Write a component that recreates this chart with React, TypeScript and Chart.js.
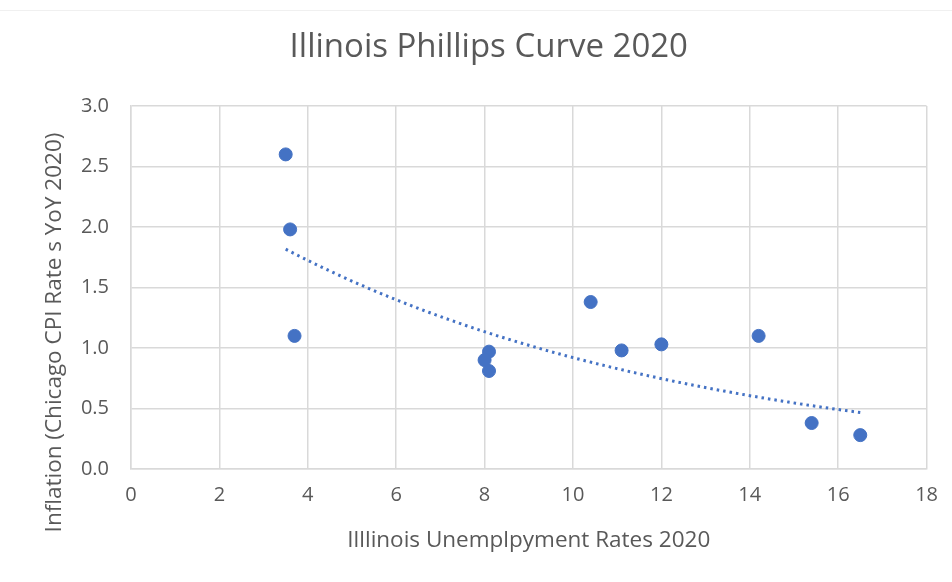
import React, { useEffect, useRef } from "react";
import { Chart, registerables } from "chart.js";

Chart.register(...registerables);

const chartTitle = "Illinois Phillips Curve 2020";
const xAxisTitle = "Illlinois Unemplpyment Rates 2020";
const yAxisTitle = "Inflation (Chicago CPI Rate s YoY 2020)";

const unemploymentRates = [3.5, 3.6, 3.7, 8.1, 8.0, 8.1, 10.4, 11.1, 12.0, 14.2, 15.4, 16.5];
const inflationRates = [2.6, 1.98, 1.1, 0.97, 0.9, 0.81, 1.38, 0.98, 1.03, 1.1, 0.38, 0.28];

const xTicks = [0, 2, 4, 6, 8, 10, 12, 14, 16, 18];
const yTicks = [0, 0.5, 1, 1.5, 2, 2.5, 3];

const FONT = "'Open Sans', 'DejaVu Sans', sans-serif";
const TEXT = "#595959";
const BLUE = "#4472C4";
const GRID = "#d9d9d9";

// Excel-style exponential trendline: least squares fit of ln(y) on x
function expFit(xs: number[], ys: number[]) {
  const n = xs.length;
  const ly = ys.map((v) => Math.log(v));
  const mx = xs.reduce((a, b) => a + b, 0) / n;
  const my = ly.reduce((a, b) => a + b, 0) / n;
  let sxy = 0;
  let sxx = 0;
  for (let i = 0; i < n; i++) {
    sxy += (xs[i] - mx) * (ly[i] - my);
    sxx += (xs[i] - mx) * (xs[i] - mx);
  }
  const k = sxy / sxx;
  const a = Math.exp(my - k * mx);
  return (x: number) => a * Math.exp(k * x);
}

function trendPoints() {
  const f = expFit(unemploymentRates, inflationRates);
  const lo = Math.min(...unemploymentRates);
  const hi = Math.max(...unemploymentRates);
  const pts: { x: number; y: number }[] = [];
  const steps = 80;
  for (let i = 0; i <= steps; i++) {
    const x = lo + ((hi - lo) * i) / steps;
    pts.push({ x, y: f(x) });
  }
  return pts;
}

const titlesPlugin = {
  id: "titlesCustom",
  afterDraw(chart: any) {
    const { ctx, chartArea } = chart;
    // chart title
    ctx.save();
    ctx.font = `33px ${FONT}`;
    ctx.fillStyle = TEXT;
    ctx.textAlign = "center";
    ctx.textBaseline = "middle";
    ctx.fillText(chartTitle, (chartArea.left + chartArea.right) / 2 - 40, chartArea.top - 58);
    ctx.restore();
    // y axis title
    ctx.save();
    ctx.translate(chartArea.left - 76, (chartArea.top + chartArea.bottom) / 2 + 45);
    ctx.rotate(-Math.PI / 2);
    ctx.font = `22.5px ${FONT}`;
    ctx.fillStyle = TEXT;
    ctx.textAlign = "center";
    ctx.textBaseline = "middle";
    ctx.fillText(yAxisTitle, 0, 0);
    ctx.restore();
  },
};

const bgPlugin = {
  id: "bgWhite",
  beforeDraw(chart: any) {
    const { ctx, width, height } = chart;
    ctx.save();
    ctx.fillStyle = "#ffffff";
    ctx.fillRect(0, 0, width, height);
    ctx.strokeStyle = "#f0f0f0";
    ctx.lineWidth = 1;
    ctx.beginPath();
    ctx.moveTo(0, 10.5);
    ctx.lineTo(width, 10.5);
    ctx.stroke();
    ctx.restore();
  },
};

export default function App() {
  const ref = useRef<HTMLCanvasElement | null>(null);

  useEffect(() => {
    if (!ref.current) return;
    const chart = new Chart(ref.current, {
      type: "scatter",
      data: {
        datasets: [
          {
            label: "Inflation",
            data: unemploymentRates.map((x, i) => ({ x, y: inflationRates[i] })),
            backgroundColor: BLUE,
            borderColor: BLUE,
            pointRadius: 6.5,
            pointHoverRadius: 6.5,
            order: 1,
          },
          {
            type: "line",
            label: "Expon. trend",
            data: trendPoints(),
            borderColor: BLUE,
            borderWidth: 3,
            borderDash: [2.5, 4],
            pointRadius: 0,
            fill: false,
            tension: 0,
            order: 0,
          } as any,
        ],
      },
      options: {
        animation: false,
        responsive: true,
        maintainAspectRatio: false,
        layout: { padding: { left: 0, right: 25, top: 106, bottom: 0 } },
        plugins: {
          legend: { display: false },
          tooltip: { enabled: false },
          title: { display: false },
        },
        scales: {
          x: {
            type: "linear",
            min: 0,
            max: 18,
            afterBuildTicks: (s: any) => {
              s.ticks = xTicks.map((v) => ({ value: v }));
            },
            afterFit: (s: any) => {
              s.height = 113;
            },
            ticks: {
              color: TEXT,
              font: { family: FONT, size: 20 },
              padding: 14,
            },
            grid: { color: GRID, lineWidth: 1.5, drawTicks: false },
            border: { color: GRID, width: 1.5 },
            title: {
              display: true,
              text: xAxisTitle,
              color: TEXT,
              font: { family: FONT, size: 22.5 },
              padding: { top: 0, bottom: 28 },
            },
          },
          y: {
            type: "linear",
            min: 0,
            max: 3,
            afterBuildTicks: (s: any) => {
              s.ticks = yTicks.map((v) => ({ value: v }));
            },
            afterFit: (s: any) => {
              s.width = 131;
            },
            ticks: {
              color: TEXT,
              font: { family: FONT, size: 20 },
              padding: 22,
              callback: (v: any) => Number(v).toFixed(1),
            },
            grid: { color: GRID, lineWidth: 1.5, drawTicks: false },
            border: { color: GRID, width: 1.5 },
          },
        },
      },
      plugins: [bgPlugin, titlesPlugin],
    });
    return () => chart.destroy();
  }, []);

  return (
    <div style={{ position: "fixed", left: 0, top: 0, width: 952, height: 582, background: "#fff" }}>
      <canvas ref={ref} />
    </div>
  );
}
